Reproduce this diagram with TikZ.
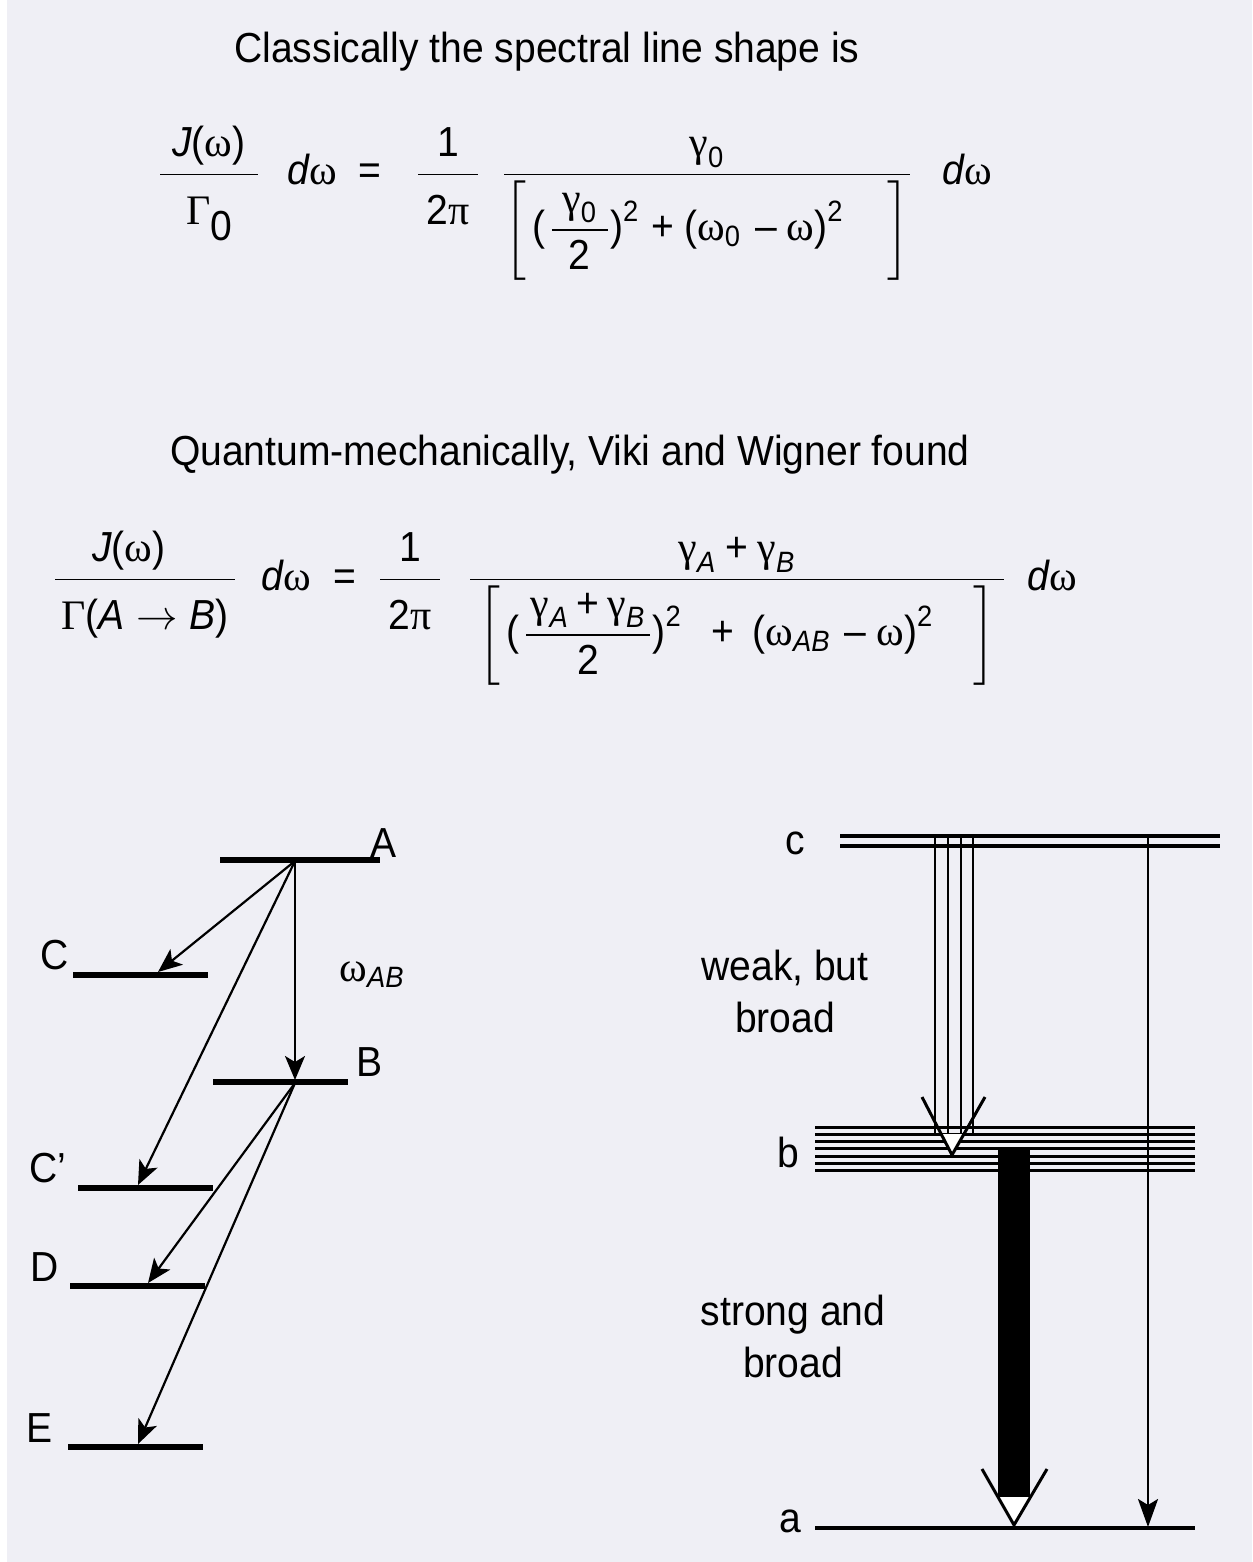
\documentclass[tikz,border=0pt]{standalone}
\usepackage{amsmath}
\usepackage{fontspec}
\setmainfont{Liberation Sans}[FakeStretch=0.93]
\newfontfamily\grk{Liberation Serif}
\usetikzlibrary{arrows.meta,calc}
\definecolor{pagebg}{HTML}{EFEFF5}
\newcommand{\om}{\text{\grk ω}}
\newcommand{\ga}{\text{\grk γ}}
\newcommand{\Gm}{\text{\grk Γ}}
\newcommand{\pii}{\text{\grk π}}
\newcommand{\vi}[1]{\text{\itshape #1}}
\newcommand{\tn}[1]{\text{#1}}
\newcommand{\hs}[1]{\hspace{#1pt}}
% fraction with set bar width and extra room above and below the bar
\newcommand{\nm}[1]{\rule[-6pt]{0pt}{6pt}#1}
\newcommand{\dn}[1]{\rule{0pt}{22pt}#1}
\newcommand{\frw}[3]{\dfrac{\makebox[#1]{$\displaystyle\nm{#2}$}}{\dn{#3}}}
\newcommand{\frs}[3]{\dfrac{\makebox[#1]{$\displaystyle#2$}}{#3}}

\begin{document}
\begin{tikzpicture}[x=0.5pt,y=-0.5pt,
  txt/.style={font=\fontsize{21}{26}\selectfont,inner sep=0pt},
  eq/.style={txt,anchor=base},
  level/.style={line width=2.6pt},
  arr/.style={-{Stealth[length=12pt,width=10pt,inset=3pt]},line width=1.1pt},
  dline/.style={line width=2pt},
  bline/.style={line width=1.5pt},
  vhead/.style={line width=1.5pt,line join=miter}]
  \useasboundingbox (0,0) rectangle (1252,1562);
  \fill[pagebg] (7,0) rectangle (1252,1562);

  % classical line shape
  \node[txt] (ttl) at (547,52) {Classically the spectral line shape is};
  \node[eq] (ea1) at (209,185) {$\frw{49pt}{\vi{J}\tn{(}\om\tn{)}}{\Gm\raisebox{-8pt}{\tn{0}}}$};
  \node[eq] (ea2) at (312,185) {$\vi{d}\om$};
  \node[eq] (ea3) at (370,185) {=};
  \node[eq] (ea4) at (448,185) {$\frw{30pt}{\tn{1}}{\tn{2}\pii}$};
  \node[eq] (ea5) at (707,185) {$\frw{202pt}{\ga_{\tn{0}}}{\bigg[\hs{3}\tn{(}\hs{2}\frs{28pt}{\ga_{\tn{0}}}{\tn{2}}\tn{)}^{\tn{2}}
      \hs{6}\tn{+}\hs{5}\tn{(}\om_{\tn{0}}\hs{7}\tn{–}\hs{5}\om\tn{)}^{\tn{2}}\hs{22}\bigg]}$};
  \node[eq] (ea6) at (967,185) {$\vi{d}\om$};

  % quantum line shape
  \node[txt] (qtl) at (570,455) {Quantum-mechanically, Viki and Wigner found};
  \node[eq] (eb1) at (145,590) {$\frw{90pt}{\vi{J}\tn{(}\om\tn{)}\hspace{16pt}}{\Gm\tn{(}\vi{A}\rightarrow\vi{B}\tn{)}}$};
  \node[eq] (eb2) at (286,590) {$\vi{d}\om$};
  \node[eq] (eb3) at (345,590) {=};
  \node[eq] (eb4) at (410,590) {$\frw{30pt}{\tn{1}}{\tn{2}\pii}$};
  \node[eq] (eb5) at (737,590) {$\frw{267pt}{\ga_{\vi{A}}\mathbin{\tn{+}}\ga_{\vi{B}}}{\bigg[\hs{3}\tn{(}\hs{2}\frs{62pt}{\ga_{\vi{A}}\hs{4}\tn{+}\hs{4}\ga_{\vi{B}}}{\tn{2}}\tn{)}^{\tn{2}}
      \hs{15}\tn{+}\hs{9}\tn{(}\om_{\vi{AB}}\hs{7}\tn{–}\hs{5}\om\tn{)}^{\tn{2}}\hs{20}\bigg]}$};
  \node[eq] (eb6) at (1052,590) {$\vi{d}\om$};

  % left level scheme
  \draw[level] (220,860) -- (380,860);
  \draw[level] (73,975) -- (208,975);
  \draw[level] (213,1082) -- (348,1082);
  \draw[level] (78,1188) -- (213,1188);
  \draw[level] (70,1286) -- (205,1286);
  \draw[level] (68,1447) -- (203,1447);
  \node[txt] (lA) at (384,843) {A};
  \node[txt] (lC) at (55,955) {C};
  \node[txt] (lB) at (370,1062) {B};
  \node[txt] (lCp) at (48,1168) {C’};
  \node[txt] (lD) at (45,1267) {D};
  \node[txt] (lE) at (40,1428) {E};
  \node[txt] (lw) at (372,975) {$\om_{\vi{AB}}$};
  \coordinate (A) at (295,861);
  \coordinate (B) at (295,1083);
  \coordinate (C) at (158,972);
  \coordinate (Bt) at (295,1080);
  \coordinate (Cp) at (138,1185);
  \coordinate (D) at (148,1283);
  \coordinate (E) at (138,1444);
  \draw[arr] (A) -- (C);
  \draw[arr] (A) -- (Cp);
  \draw[arr] (A) -- (Bt);
  \draw[arr] (B) -- (D);
  \draw[arr] (B) -- (E);

  % right level scheme
  \draw[dline] (840,836) -- (1220,836);
  \draw[dline] (840,846) -- (1220,846);
  \foreach \i in {0,...,6}
    \draw[bline] (815,1127+7.3*\i) -- (1195,1127+7.3*\i);
  \draw[dline] (815,1528) -- (1195,1528);
  \node[txt] (lc) at (795,843) {c};
  \node[txt] (lb) at (788,1152) {b};
  \node[txt] (la) at (790,1521) {a};
  \node[txt,align=center] (weak) at (785,991) {weak, but\\broad};
  \node[txt,align=center] (strong) at (793,1336) {strong and\\broad};
  \coordinate (bt) at (952,1155);
  \foreach \x in {935,948,961,973}
    \draw[line width=1.4pt] (\x,838) -- (\x,1135);
  \fill[white] (940,1134) -- (964,1134) -- (bt) -- cycle;
  \draw[vhead] ($(bt)+(-30,-58)$) -- (bt) -- ($(bt)+(33,-58)$);
  \coordinate (at) at (1014,1525);
  \fill (998,1150) rectangle (1030,1497);
  \fill[white] (998,1497) -- (1030,1497) -- (at) -- cycle;
  \draw[vhead] ($(at)+(-32,-56)$) -- (at) -- ($(at)+(33,-56)$);
  \coordinate (cr) at (1148,838);
  \coordinate (ar) at (1148,1527);
  \draw[-{Stealth[length=14pt,width=10pt,inset=3pt]},line width=1.3pt] (cr) -- (ar);
\end{tikzpicture}
\end{document}
